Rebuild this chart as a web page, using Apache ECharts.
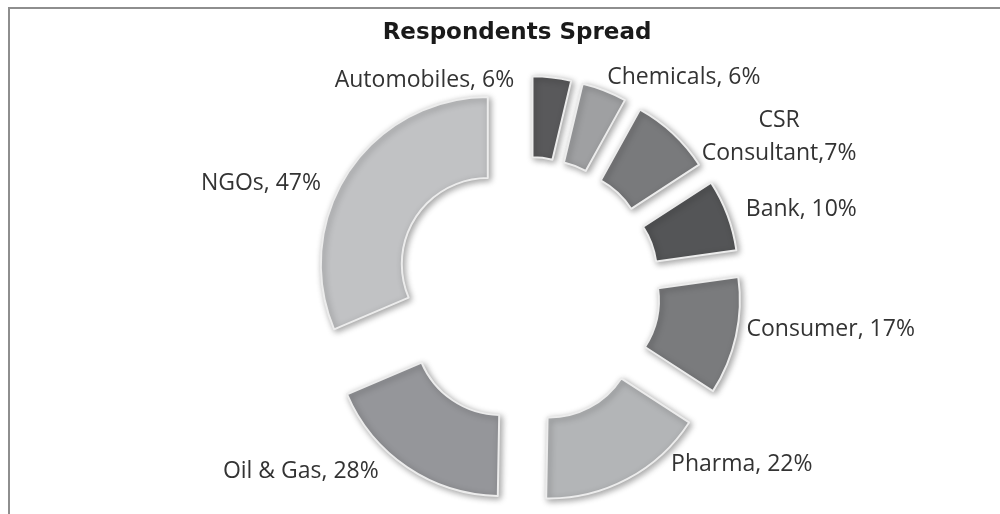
<!DOCTYPE html>
<html>
<head>
<meta charset="utf-8">
<script src="https://cdn.jsdelivr.net/npm/echarts@6/dist/echarts.min.js"></script>
<style>
html,body{margin:0;padding:0;background:#fff;}
#chart{width:1000px;height:514px;}
</style>
</head>
<body>
<div id="chart"></div>
<script>
// Categories, clockwise from 12 o'clock
var categories = ['Automobiles', 'Chemicals', 'CSR Consultant', 'Bank', 'Consumer', 'Pharma', 'Oil & Gas', 'NGOs'];
// Percentages printed in the data labels
var labelPercents = [6, 6, 7, 10, 17, 22, 28, 47];
// Slice sizes as drawn (in degrees of the ring)
var sliceSizes = [13.4, 15.6, 28, 25, 41, 58, 66, 113];
// Label texts as shown
var labelTexts = ['Automobiles, 6%', 'Chemicals, 6%', 'CSR\nConsultant,7%', 'Bank, 10%', 'Consumer, 17%', 'Pharma, 22%', 'Oil & Gas, 28%', 'NGOs, 47%'];

// styling
var colors = ['#59595b', '#9fa0a2', '#797a7c', '#545557', '#7a7b7d', '#b3b5b7', '#95969a', '#c1c2c4'];
var CX = 527, CY = 290;
// label anchor relative to pie centre: [angle (deg clockwise from 12 o'clock), distance]
var labelAnchor = [[356.5, 210], [20.7, 227], [58.7, 295], [69.9, 233], [100.1, 223], [140.4, 226], [219.3, 234], [297.4, 232]];
var labelAlign = ['right', 'left', 'center', 'left', 'left', 'left', 'right', 'right'];

var data = categories.map(function (c, i) {
  return {
    name: c,
    value: sliceSizes[i],
    selected: true,
    itemStyle: { color: colors[i] }
  };
});

var labelGraphics = labelTexts.map(function (t, i) {
  var a = labelAnchor[i];
  var rad = a[0] * Math.PI / 180;
  return {
    type: 'text',
    x: CX + a[1] * Math.sin(rad),
    y: CY - a[1] * Math.cos(rad),
    silent: true,
    z: 10,
    style: {
      text: t,
      fontFamily: 'Open Sans',
      fontSize: 23,
      lineHeight: 33,
      fill: '#333333',
      align: labelAlign[i],
      verticalAlign: 'middle'
    }
  };
});

var chart = echarts.init(document.getElementById('chart'), null, { renderer: 'canvas' });
chart.setOption({
  backgroundColor: '#ffffff',
  animation: false,
  title: {
    text: 'Respondents Spread',
    left: 512,
    top: 17,
    textAlign: 'center',
    textStyle: { fontFamily: 'DejaVu Sans', fontWeight: 'bold', fontSize: 23, color: '#1a1a1a' }
  },
  graphic: [{
    type: 'rect',
    shape: { x: 9, y: 8, width: 1010, height: 530 },
    style: { fill: 'none', stroke: '#8e8e8e', lineWidth: 2 },
    silent: true,
    z: 0
  }].concat(labelGraphics),
  series: [{
    type: 'pie',
    center: [CX, CY],
    radius: [86, 167],
    startAngle: 90,
    clockwise: true,
    selectedMode: 'multiple',
    selectedOffset: 47,
    avoidLabelOverlap: false,
    emphasis: { disabled: true },
    itemStyle: {
      borderColor: '#ececec',
      borderWidth: 2,
      shadowBlur: 6,
      shadowColor: 'rgba(0,0,0,0.35)',
      shadowOffsetX: 2,
      shadowOffsetY: 2
    },
    select: { itemStyle: { borderColor: '#ececec', borderWidth: 2 } },
    label: { show: false },
    labelLine: { show: false },
    data: data
  }]
});
</script>
</body>
</html>
